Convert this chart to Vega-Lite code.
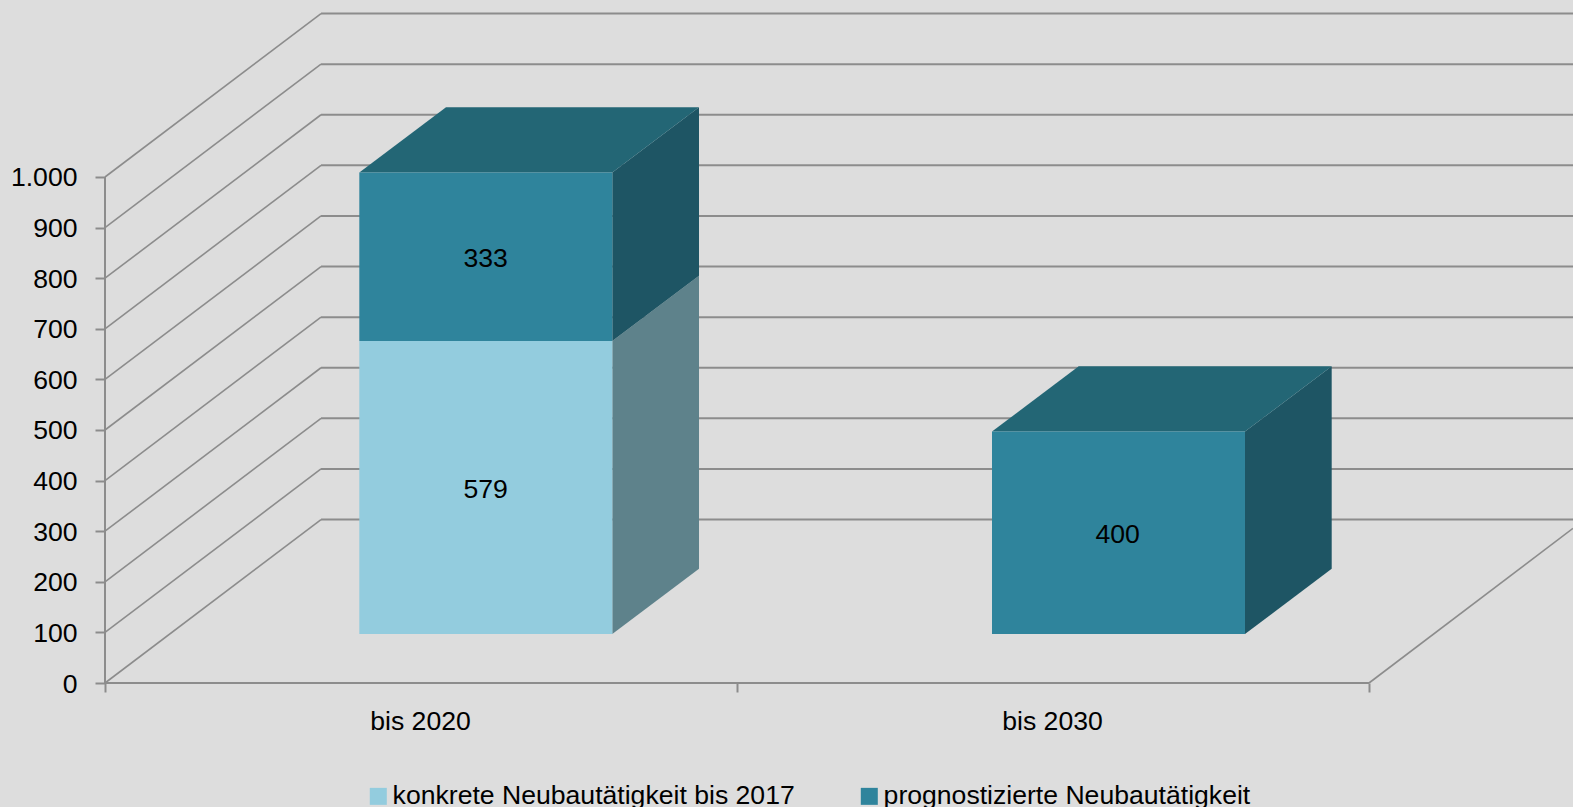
{
"$schema":"https://vega.github.io/schema/vega-lite/v6.json",
"width":1468,"height":683,
"autosize":{"type":"none"},
"padding":{"left":105,"top":0,"right":0,"bottom":124},
"background":"#dddddd",
"config":{"view":{"stroke":null},"font":"Liberation Sans"},
"datasets":{
"bars":[
{"category":"bis 2020","series":"konkrete Neubautätigkeit bis 2017","value":579,"left":0.4024,"right":0.8027,"base":96.8,"top":675.8,"labelX":0.6022,"labelY":382},
{"category":"bis 2020","series":"prognostizierte Neubautätigkeit","value":333,"left":0.4024,"right":0.8027,"base":675.8,"top":1008.8,"labelX":0.6022,"labelY":838},
{"category":"bis 2030","series":"prognostizierte Neubautätigkeit","value":400,"left":1.4035,"right":1.8038,"base":96.8,"top":496.8,"labelX":1.6022,"labelY":293}
],
"sides":[
{"bar":"2020 unten","series":"konkrete Neubautätigkeit bis 2017","x":0.8027,"low":96.8,"high":675.8},
{"bar":"2020 unten","series":"konkrete Neubautätigkeit bis 2017","x":0.9399,"low":225.8,"high":804.8},
{"bar":"2020 oben","series":"prognostizierte Neubautätigkeit","x":0.8027,"low":675.8,"high":1008.8},
{"bar":"2020 oben","series":"prognostizierte Neubautätigkeit","x":0.9399,"low":804.8,"high":1137.8},
{"bar":"2030","series":"prognostizierte Neubautätigkeit","x":1.8038,"low":96.8,"high":496.8},
{"bar":"2030","series":"prognostizierte Neubautätigkeit","x":1.941,"low":225.8,"high":625.8}
],
"tops":[
{"bar":"2020","x":0.4024,"x2":0.8027,"y":1008.8},
{"bar":"2020","x":0.5396,"x2":0.9399,"y":1137.8},
{"bar":"2030","x":1.4035,"x2":1.8038,"y":496.8},
{"bar":"2030","x":1.5407,"x2":1.941,"y":625.8}
],
"diagonals":[
{"tick":0,"x":0,"y":0},{"tick":0,"x":0.3418,"y":323},
{"tick":100,"x":0,"y":100},{"tick":100,"x":0.3418,"y":423},
{"tick":200,"x":0,"y":200},{"tick":200,"x":0.3418,"y":523},
{"tick":300,"x":0,"y":300},{"tick":300,"x":0.3418,"y":623},
{"tick":400,"x":0,"y":400},{"tick":400,"x":0.3418,"y":723},
{"tick":500,"x":0,"y":500},{"tick":500,"x":0.3418,"y":823},
{"tick":600,"x":0,"y":600},{"tick":600,"x":0.3418,"y":923},
{"tick":700,"x":0,"y":700},{"tick":700,"x":0.3418,"y":1023},
{"tick":800,"x":0,"y":800},{"tick":800,"x":0.3418,"y":1123},
{"tick":900,"x":0,"y":900},{"tick":900,"x":0.3418,"y":1223},
{"tick":1000,"x":0,"y":1000},{"tick":1000,"x":0.3418,"y":1323},
{"tick":-1,"x":2,"y":0},{"tick":-1,"x":2.3228,"y":305.7}
],
"horizontals":[
{"tick":0,"x":0.3418,"y":323},{"tick":0,"x":2.3228,"y":323},
{"tick":100,"x":0.3418,"y":423},{"tick":100,"x":2.3228,"y":423},
{"tick":200,"x":0.3418,"y":523},{"tick":200,"x":2.3228,"y":523},
{"tick":300,"x":0.3418,"y":623},{"tick":300,"x":2.3228,"y":623},
{"tick":400,"x":0.3418,"y":723},{"tick":400,"x":2.3228,"y":723},
{"tick":500,"x":0.3418,"y":823},{"tick":500,"x":2.3228,"y":823},
{"tick":600,"x":0.3418,"y":923},{"tick":600,"x":2.3228,"y":923},
{"tick":700,"x":0.3418,"y":1023},{"tick":700,"x":2.3228,"y":1023},
{"tick":800,"x":0.3418,"y":1123},{"tick":800,"x":2.3228,"y":1123},
{"tick":900,"x":0.3418,"y":1223},{"tick":900,"x":2.3228,"y":1223},
{"tick":1000,"x":0.3418,"y":1323},{"tick":1000,"x":2.3228,"y":1323},
{"tick":-2,"x":0,"y":0},{"tick":-2,"x":2,"y":0},
{"tick":-3,"x":0,"y":0},{"tick":-3,"x":0,"y":1000}
]
},
"layer":[
{"data":{"name":"diagonals"},
"mark":{"type":"line","color":"#8c8c8c","strokeWidth":1.6},
"encoding":{
"x":{"field":"x","type":"quantitative","title":null,
"scale":{"domain":[0,2.3228],"nice":false,"zero":false},
"axis":{"values":[0,0.5,1,1.5,2],"grid":false,"domain":false,"tickColor":"#8c8c8c","tickWidth":2,"tickSize":9,
"tickOpacity":{"expr":"datum.value % 1 ? 0 : 1"},
"labelExpr":"datum.value == 0.5 ? 'bis 2020' : datum.value == 1.5 ? 'bis 2030' : ''",
"labelFont":"Liberation Sans","labelFontSize":26.6,"labelColor":"#000000","labelPadding":16,"labelOffset":-1,"labelFlush":false,"labelOverlap":false}},
"y":{"field":"y","type":"quantitative","title":null,
"scale":{"domain":[0,1349.8],"nice":false,"zero":false},
"axis":{"values":[0,100,200,300,400,500,600,700,800,900,1000],"grid":false,"domain":false,"tickColor":"#8c8c8c","tickWidth":2,"tickSize":10,
"labelExpr":"replace(format(datum.value, ','), ',', '.')",
"labelFont":"Liberation Sans","labelFontSize":26.6,"labelColor":"#000000","labelPadding":18,"labelOffset":1,"labelFlush":false,"labelOverlap":false}},
"detail":{"field":"tick"}
}},
{"data":{"name":"horizontals"},
"mark":{"type":"line","color":"#8c8c8c","strokeWidth":2},
"encoding":{
"x":{"field":"x","type":"quantitative"},
"y":{"field":"y","type":"quantitative"},
"detail":{"field":"tick"}
}},
{"data":{"name":"sides"},
"transform":[{"filter":"datum.series === 'konkrete Neubautätigkeit bis 2017'"}],
"mark":{"type":"area","color":"#5e828b","opacity":1},
"encoding":{
"x":{"field":"x","type":"quantitative"},
"y":{"field":"low","type":"quantitative"},
"y2":{"field":"high"},
"detail":{"field":"bar"}
}},
{"data":{"name":"sides"},
"transform":[{"filter":"datum.series === 'prognostizierte Neubautätigkeit'"}],
"mark":{"type":"area","color":"#1e5564","opacity":1},
"encoding":{
"x":{"field":"x","type":"quantitative"},
"y":{"field":"low","type":"quantitative"},
"y2":{"field":"high"},
"detail":{"field":"bar"}
}},
{"data":{"name":"tops"},
"mark":{"type":"area","orient":"horizontal","color":"#236675","opacity":1},
"encoding":{
"y":{"field":"y","type":"quantitative"},
"x":{"field":"x","type":"quantitative"},
"x2":{"field":"x2"},
"detail":{"field":"bar"}
}},
{"data":{"name":"bars"},
"mark":{"type":"rect"},
"encoding":{
"x":{"field":"left","type":"quantitative"},
"x2":{"field":"right"},
"y":{"field":"base","type":"quantitative"},
"y2":{"field":"top"},
"color":{"field":"series","type":"nominal",
"scale":{"domain":["konkrete Neubautätigkeit bis 2017","prognostizierte Neubautätigkeit"],"range":["#93ccde","#2f849c"]},
"legend":{"orient":"none","legendX":260,"legendY":783,"padding":0,"direction":"horizontal","columns":2,"title":null,"symbolType":"square","symbolSize":289,"symbolStrokeWidth":0,"symbolOpacity":1,
"labelFont":"Liberation Sans","labelFontSize":26.6,"labelColor":"#000000","labelOffset":1,"columnPadding":61,"labelLimit":600}}
}},
{"data":{"name":"bars"},
"mark":{"type":"text","font":"Liberation Sans","fontSize":26.6,"color":"#000000","baseline":"middle","align":"center"},
"encoding":{
"x":{"field":"labelX","type":"quantitative"},
"y":{"field":"labelY","type":"quantitative"},
"text":{"field":"value","type":"quantitative"}
}}
]
}
